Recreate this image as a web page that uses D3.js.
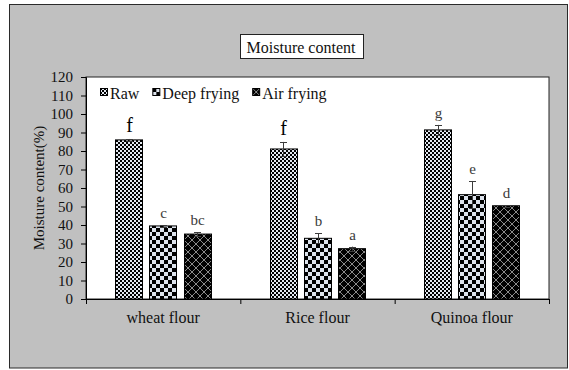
<!DOCTYPE html>
<html>
<head>
<meta charset="utf-8">
<script src="https://cdn.jsdelivr.net/npm/d3@7"></script>
<style>
  body { margin: 0; background: #fff; }
  svg text { font-family: "Liberation Serif", "Times New Roman", "DejaVu Serif", serif !important; }
</style>
</head>
<body>
<svg id="chart" width="569" height="370" font-family="Liberation Serif"></svg>
<script>
// Moisture content (%) of flours: raw vs. fried, mean ± error, with significance letters
const categories = ["wheat flour", "Rice flour", "Quinoa flour"];
const series = ["Raw", "Deep frying", "Air frying"];
const rawValues  = [86.0, 81.1, 91.4];
const deepValues = [39.5, 32.8, 56.4];
const airValues  = [35.1, 27.2, 50.4];
const rawErrors  = [0.5, 3.8, 2.7];
const deepErrors = [0.5, 2.7, 7.4];
const airErrors  = [1.1, 1.1, 0.4];
const rawLetters  = ["f", "f", "g"];
const deepLetters = ["c", "b", "e"];
const airLetters  = ["bc", "a", "d"];
const yTicks = [0, 10, 20, 30, 40, 50, 60, 70, 80, 90, 100, 110, 120];
const chartTitle = "Moisture content";
const yAxisTitle = "Moisture content(%)";

const valuesBySeries = [rawValues, deepValues, airValues];
const errorsBySeries = [rawErrors, deepErrors, airErrors];
const lettersBySeries = [rawLetters, deepLetters, airLetters];

const rows = [];
categories.forEach((c, ci) => {
  series.forEach((s, si) => {
    rows.push({
      category: c, series: s, si,
      value: valuesBySeries[si][ci],
      error: errorsBySeries[si][ci],
      letter: lettersBySeries[si][ci]
    });
  });
});

const SERIF = '"Liberation Serif", "Times New Roman", serif';
const svg = d3.select("#chart");
const W = 569, H = 370;
const plot = { left: 86, right: 549, top: 77, bottom: 299 };

// chart area background and frame
svg.append("rect").attr("x", 0).attr("y", 0).attr("width", W).attr("height", H).attr("fill", "#fff");
svg.append("rect")
  .attr("x", 9.5).attr("y", 4.5).attr("width", 558).attr("height", 363.5)
  .attr("fill", "#c0c0c0").attr("stroke", "#2a2a2a").attr("stroke-width", 1);

// fill patterns
const defs = svg.append("defs");
function checker(id, cell, light) {
  const p = defs.append("pattern").attr("id", id)
    .attr("patternUnits", "userSpaceOnUse")
    .attr("width", cell * 2).attr("height", cell * 2);
  p.append("rect").attr("width", cell * 2).attr("height", cell * 2).attr("fill", light);
  p.append("rect").attr("width", cell).attr("height", cell).attr("fill", "#000");
  p.append("rect").attr("x", cell).attr("y", cell).attr("width", cell).attr("height", cell).attr("fill", "#000");
}
checker("pat-raw", 2, "#e4e9f1");
checker("pat-deep", 4, "#dde3ec");
{
  const p = defs.append("pattern").attr("id", "pat-air")
    .attr("patternUnits", "userSpaceOnUse").attr("width", 8).attr("height", 8);
  p.append("rect").attr("width", 8).attr("height", 8).attr("fill", "#000");
  p.append("path").attr("d", "M0,0L8,8M8,0L0,8M-1,7L1,9M7,-1L9,1M-1,1L1,-1M7,9L9,7")
    .attr("stroke", "#8a8a8a").attr("stroke-width", 1).attr("fill", "none");
}
const fills = d3.scaleOrdinal().domain(series).range(["url(#pat-raw)", "url(#pat-deep)", "url(#pat-air)"]);

// scales
const y = d3.scaleLinear().domain([0, 120]).range([plot.bottom, plot.top]);
const x0 = d3.scaleBand().domain(categories).range([plot.left, plot.right]).paddingInner(0).paddingOuter(0);
const x1 = d3.scaleBand().domain(series).range([0, x0.bandwidth()]).paddingInner(0.196).paddingOuter(0.857);

// plot area
svg.append("rect")
  .attr("x", plot.left).attr("y", plot.top)
  .attr("width", plot.right - plot.left).attr("height", plot.bottom - plot.top)
  .attr("fill", "#fff").attr("stroke", "#222").attr("stroke-width", 1);

// y axis
const yAxis = svg.append("g")
  .attr("transform", `translate(${plot.left},0)`)
  .call(d3.axisLeft(y).tickValues(yTicks).tickSize(5).tickPadding(8).tickFormat(d3.format("d")));
yAxis.attr("font-family", SERIF).attr("font-size", 15);
yAxis.select(".domain").attr("stroke", "#000");
yAxis.selectAll(".tick line").attr("stroke", "#000");
yAxis.selectAll(".tick text").style("font-family", SERIF).attr("fill", "#111");

// x axis: category labels centred under groups, tick marks at group boundaries
const xAxis = svg.append("g")
  .attr("transform", `translate(0,${plot.bottom})`)
  .call(d3.axisBottom(x0).tickSize(0).tickPadding(13));
xAxis.attr("font-family", SERIF).attr("font-size", 16);
xAxis.select(".domain").attr("stroke", "#000");
xAxis.selectAll(".tick text").style("font-family", SERIF).attr("fill", "#111");
const boundaries = categories.map(c => x0(c)).concat([x0.range()[1]]);
svg.append("g").selectAll("line").data(boundaries).join("line")
  .attr("x1", d => d + 0.5).attr("x2", d => d + 0.5)
  .attr("y1", plot.bottom).attr("y2", plot.bottom + 5)
  .attr("stroke", "#000");

// bars
svg.append("g").selectAll("rect").data(rows).join("rect")
  .attr("x", d => Math.round(x0(d.category) + x1(d.series)) + 0.5)
  .attr("y", d => y(d.value))
  .attr("width", Math.round(x1.bandwidth()))
  .attr("height", d => y(0) - y(d.value))
  .attr("fill", d => fills(d.series))
  .attr("stroke", "#000").attr("stroke-width", 1);

// error bars
const cx = d => Math.round(x0(d.category) + x1(d.series) + x1.bandwidth() / 2) + 0.5;
const err = svg.append("g").attr("stroke", "#3c3c3c").attr("stroke-width", 1);
err.selectAll("line.v").data(rows).join("line").attr("class", "v")
  .attr("x1", cx).attr("x2", cx)
  .attr("y1", d => y(d.value + d.error)).attr("y2", d => y(d.value - d.error));
err.selectAll("line.top").data(rows).join("line").attr("class", "top")
  .attr("x1", d => cx(d) - 3.5).attr("x2", d => cx(d) + 3.5)
  .attr("y1", d => Math.round(y(d.value + d.error)) + 0.5).attr("y2", d => Math.round(y(d.value + d.error)) + 0.5);
err.selectAll("line.bot").data(rows).join("line").attr("class", "bot")
  .attr("x1", d => cx(d) - 3.5).attr("x2", d => cx(d) + 3.5)
  .attr("y1", d => Math.round(y(d.value - d.error)) + 0.5).attr("y2", d => Math.round(y(d.value - d.error)) + 0.5);

// significance letters
svg.append("g").selectAll("text").data(rows).join("text")
  .attr("x", cx)
  .attr("y", d => y(d.value + d.error) - 7)
  .attr("text-anchor", "middle")
  .attr("font-size", d => d.letter === "f" ? 20 : 15)
  .style("font-family", SERIF)
  .style("fill", d => d.letter === "f" ? "#000" : "#3a3a3a")
  .text(d => d.letter);

// legend
const legend = svg.append("g").attr("transform", "translate(100,0)");
let lx = 0;
series.forEach(s => {
  const g = legend.append("g").attr("transform", `translate(${lx},0)`);
  g.append("rect").attr("x", 0.5).attr("y", 88.5).attr("width", 7).attr("height", 7)
    .attr("fill", fills(s)).attr("stroke", "#000");
  const t = g.append("text").attr("x", 10).attr("y", 98.5)
    .attr("font-size", 16).style("font-family", SERIF).style("fill", "#111").text(s);
  lx += 10 + t.node().getComputedTextLength() + 13;
});

// chart title in a framed box
const titleG = svg.append("g");
const tt = titleG.append("text").attr("x", 301).attr("y", 52.5)
  .attr("text-anchor", "middle").attr("font-size", 16)
  .style("font-family", SERIF).style("fill", "#111").text(chartTitle);
const tw = tt.node().getComputedTextLength();
titleG.insert("rect", "text")
  .attr("x", Math.round(301 - tw / 2 - 7) + 0.5).attr("y", 34.5)
  .attr("width", Math.round(tw + 14)).attr("height", 24)
  .attr("fill", "#fff").attr("stroke", "#222");

// y axis title
svg.append("text")
  .attr("transform", `translate(44,${(plot.top + plot.bottom) / 2}) rotate(-90)`)
  .attr("text-anchor", "middle").attr("font-size", 15)
  .style("font-family", SERIF).style("fill", "#111")
  .text(yAxisTitle);
</script>
</body>
</html>
